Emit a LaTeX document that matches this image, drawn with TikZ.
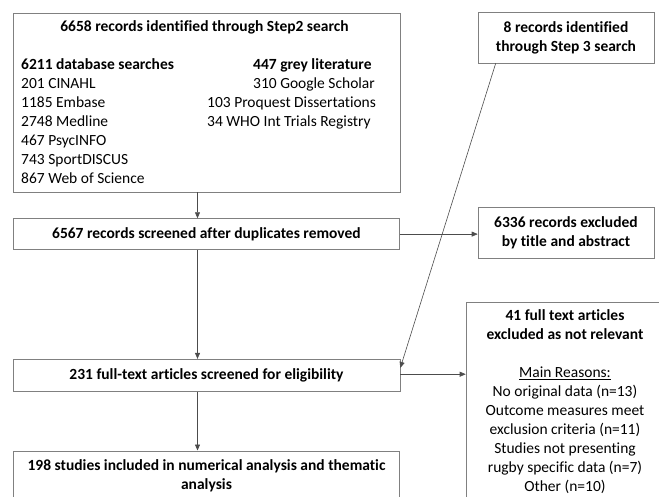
\documentclass[tikz,border=0pt]{standalone}
\usepackage{fontspec}
\setmainfont{Carlito}[Ligatures=CommonOff]
\usetikzlibrary{positioning, arrows.meta}

\tikzset{
  box/.style = {draw=black!50, line width=0.6pt, align=center, inner sep=0pt,
                font=\fontsize{15.5}{19}\selectfont},
  plain/.style = {inner sep=0pt, align=left, font=\fontsize{15.5}{19}\selectfont},
  every edge/.append style = {draw=black!70, line width=0.6pt},
}

\begin{document}
\begin{tikzpicture}[->, >={Triangle[length=6pt,width=5pt]}, x=1pt, y=1pt, node distance=26pt]
\useasboundingbox (0,0) rectangle (659,-496);
\clip (0,0) rectangle (659,-496);
% left column
\node[box, minimum width=387pt, minimum height=179pt](search) at (206.5,-102.5){};
\node[plain](searchtitle) at (204.5,-27){\textbf{6658 records identified through Step2 search}};
\node[plain, anchor=west](dbs) at (21,-121.5){\textbf{6211 database searches}\\201 CINAHL\\1185 Embase\\2748 Medline\\467 PsycINFO\\743 SportDISCUS\\867 Web of Science};
\node[plain, anchor=west](grey) at (207,-94){\hspace*{46pt}\textbf{447 grey literature}\\\hspace*{46pt}310 Google Scholar\\103 Proquest Dissertations\\34 WHO Int Trials Registry};
\node[box, minimum width=386pt, minimum height=31pt](screened)[below=26pt of search]{\textbf{6567 records screened after duplicates removed}};
\node[box, minimum width=387pt, minimum height=32pt](full)[below=109pt of screened]{\textbf{231 full-text articles screened for eligibility}};
\node[box, minimum width=386pt, minimum height=49pt](incl)[below=59pt of full]{\textbf{198 studies included in numerical analysis and thematic}\\\textbf{analysis}};
% right column
\node[box, minimum width=176pt, minimum height=51pt](step3) at (566,-37.5){\textbf{8 records identified}\\\textbf{through Step 3 search}};
\node[box, minimum width=176pt, minimum height=51pt](excl)[below=144pt of step3]{\textbf{6336 records excluded}\\\textbf{by title and abstract}};
\node[box, minimum width=198pt, minimum height=200pt](reasons) at (565,-402){\textbf{41 full text articles}\\\textbf{excluded as not relevant}\\[19pt]\underline{Main Reasons:}\\No original data (n=13)\\Outcome measures meet\\exclusion criteria (n=11)\\Studies not presenting\\rugby specific data (n=7)\\Other (n=10)};
% connectors
\coordinate (spine) at (197.5,0);
\path (search.south -| spine) edge (screened.north -| spine);
\path (screened.south -| spine) edge (full.north -| spine);
\path (full.south -| spine) edge (incl.north -| spine);
\path (screened.east) edge (screened.east -| excl.west);
\path ([yshift=1pt]full.east) edge ([yshift=1pt]full.east -| reasons.west);
\path ([xshift=18pt]step3.south west) edge ([yshift=-9pt]full.north east);
\end{tikzpicture}
\end{document}
